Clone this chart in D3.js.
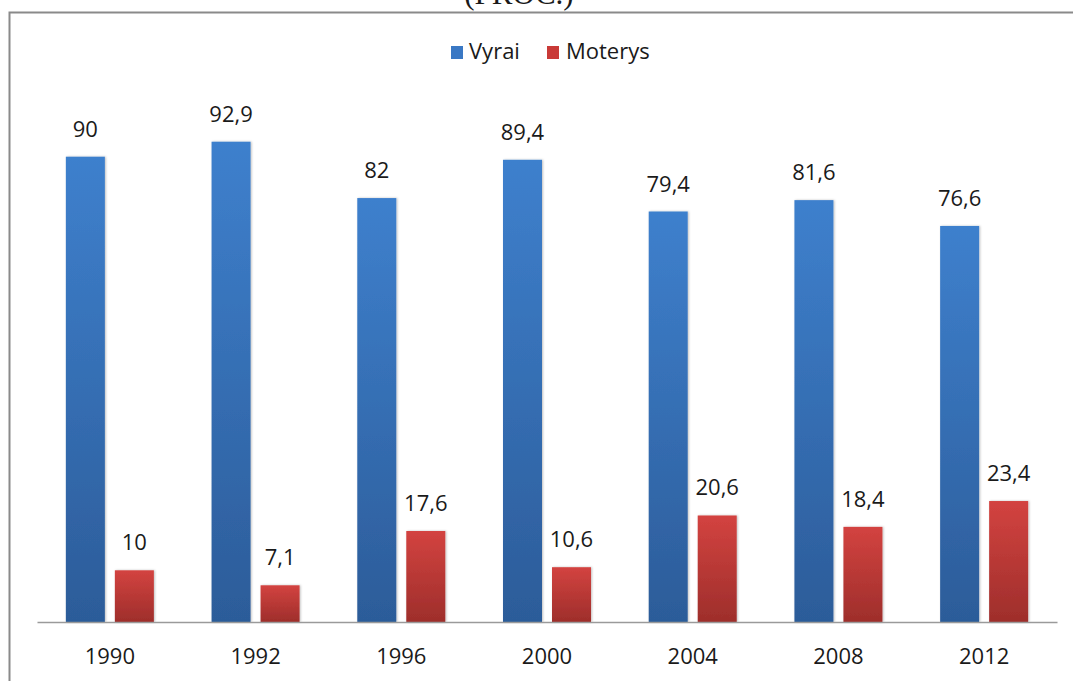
<!DOCTYPE html>
<html>
<head>
<meta charset="utf-8">
<script src="https://cdn.jsdelivr.net/npm/d3@7"></script>
<style>
  html, body { margin: 0; padding: 0; background: #fff; }
  svg { display: block; }
  text { font-family: "Open Sans", "Noto Sans", sans-serif; fill: #1a1a1a; }
</style>
</head>
<body>
<svg id="chart" width="1073" height="681"></svg>
<script>
const years = ["1990", "1992", "1996", "2000", "2004", "2008", "2012"];
const seriesNames = ["Vyrai", "Moterys"];
const vyrai = [90, 92.9, 82, 89.4, 79.4, 81.6, 76.6];
const moterys = [10, 7.1, 17.6, 10.6, 20.6, 18.4, 23.4];
const titleText = "(PROC.)";

const seriesValues = [vyrai, moterys];
const rows = years.map((y, i) => ({ year: y, values: seriesNames.map((s, j) => ({ key: s, value: seriesValues[j][i] })) }));

const svg = d3.select("#chart");
const W = 1073, H = 681;

const defs = svg.append("defs");
const grads = [
  { id: "gBlue", top: "#3e80cd", bottom: "#2c5c99" },
  { id: "gRed", top: "#d34340", bottom: "#9e2e2b" }
];
grads.forEach(g => {
  const lg = defs.append("linearGradient").attr("id", g.id).attr("x1", 0).attr("y1", 0).attr("x2", 0).attr("y2", 1);
  lg.append("stop").attr("offset", "0%").attr("stop-color", g.top);
  lg.append("stop").attr("offset", "100%").attr("stop-color", g.bottom);
});
const f = defs.append("filter").attr("id", "shadow").attr("x", "-20%").attr("y", "-5%").attr("width", "140%").attr("height", "110%");
f.append("feDropShadow").attr("dx", 1).attr("dy", 0).attr("stdDeviation", 1.2).attr("flood-color", "#000").attr("flood-opacity", 0.25);

// Title (cut off at top)
svg.append("text").attr("x", 519).attr("y", 4).attr("text-anchor", "middle")
  .style("font-family", "'Liberation Serif', 'DejaVu Serif', serif").style("font-size", "31px")
  .text(titleText);

// Frame
svg.append("rect").attr("x", 9.5).attr("y", 12.5).attr("width", W + 20).attr("height", H + 20)
  .attr("fill", "none").attr("stroke", "#8a8a8a").attr("stroke-width", 2);

const x0 = d3.scaleBand().domain(years).range([37, 1057]).paddingInner(0).paddingOuter(0);
const bw = x0.bandwidth();
const x1 = d3.scaleBand().domain(seriesNames).range([bw * 0.198, bw * 0.802]).paddingInner(0.204);
const y = d3.scaleLinear().domain([0, 100]).range([622, 105]);
const color = d3.scaleOrdinal().domain(seriesNames).range(["url(#gBlue)", "url(#gRed)"]);
const legendColor = d3.scaleOrdinal().domain(seriesNames).range(["#3a78c4", "#c93a37"]);

const fmt = v => String(v).replace(".", ",");

const groups = svg.append("g").selectAll("g").data(rows).join("g")
  .attr("transform", d => `translate(${x0(d.year)},0)`);

groups.selectAll("rect").data(d => d.values).join("rect")
  .attr("x", d => x1(d.key))
  .attr("y", d => y(d.value))
  .attr("width", x1.bandwidth())
  .attr("height", d => y(0) - y(d.value))
  .attr("fill", d => color(d.key))
  .attr("filter", "url(#shadow)");

groups.selectAll("text.val").data(d => d.values).join("text")
  .attr("class", "val")
  .attr("x", d => x1(d.key) + x1.bandwidth() / 2)
  .attr("y", d => y(d.value) - 20)
  .attr("text-anchor", "middle")
  .style("font-size", "22px")
  .text(d => fmt(d.value));

// X axis
const xAxis = d3.axisBottom(x0).tickSize(0).tickPadding(0);
const ax = svg.append("g").attr("transform", `translate(0,${y(0)})`).call(xAxis);
ax.select(".domain").attr("stroke", "#9a9a9a").attr("stroke-width", 1.5);
ax.selectAll(".tick text").attr("y", 42).attr("dy", 0)
  .style("font-size", "22px").style("font-family", "'Open Sans', sans-serif").attr("fill", "#1a1a1a");

// Legend
const legendPos = [{ sq: 451, tx: 469 }, { sq: 547, tx: 566 }];
const lg = svg.append("g");
seriesNames.forEach((s, i) => {
  lg.append("rect").attr("x", legendPos[i].sq).attr("y", 46).attr("width", 12).attr("height", 13).attr("fill", legendColor(s));
  lg.append("text").attr("x", legendPos[i].tx).attr("y", 59).style("font-size", "22px").text(s);
});
</script>
</body>
</html>
